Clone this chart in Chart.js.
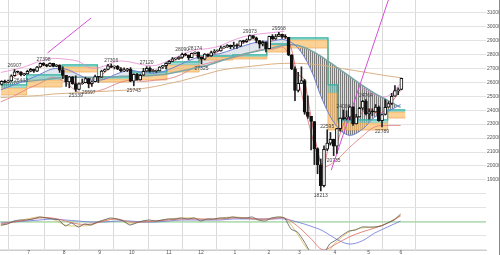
<!DOCTYPE html>
<html>
<head>
<meta charset="utf-8">
<script src="https://cdn.jsdelivr.net/npm/chart.js@4.4.1/dist/chart.umd.min.js"></script>
<style>
html, body { margin: 0; padding: 0; background: #fff; }
#wrap { width: 499px; height: 255px; border-right: 1px solid #888; }
</style>
</head>
<body>
<div id="wrap"><canvas id="chart" width="499" height="255"></canvas></div>
<script>
// two-day candles, Jun 2019 -> Jun 2020 (x = trading day index)
const opens = [25850,26062,26004,26090,26465,26753,26727,26536,26600,26787,26922,26783,27088,27359,27219,27154,27349,27140,27221,26864,
  26485,26030,26378,25897,25480,25886,25962,26252,25898,26036,26403,26355,26797,26910,27182,27076,27147,26935,26807,26891,
  26917,26078,26573,26164,26497,26787,27002,26770,26788,26806,27091,27186,27347,27492,27674,27691,27784,28005,27934,27766,
  28066,28164,27783,27649,28015,27881,28132,28235,28239,28455,28515,28645,28538,28634,28583,28956,28907,29030,29348,29186,
  28989,28723,28859,28399,29290,29102,29276,29423,29232,29219,27960,26957,25409,25917,26121,23851,23553,23185,21237,20087,
  18591,21200,21636,21917,21413,22680,23433,23390,23504,24242,23018,23515,24133,24634,23724,23883,23875,24221,23248,23685,
  24207,24474,24995,25401,25475];
const highs = [26110,26150,26160,26530,26907,26800,26760,26640,26860,26990,26940,27140,27390,27398,27280,27380,27360,27260,27250,27100,
  26490,26420,26410,26460,25960,26230,26360,26280,26080,26510,26410,26860,26950,27280,27306,27180,27200,27040,27030,27000,
  27050,26600,26640,26580,26990,27120,27100,26900,26880,27110,27210,27380,27560,27775,27720,27830,28090,28080,27940,28090,
  28174,28170,27790,28050,28040,28225,28337,28320,28590,28580,28701,28670,28872,28750,28980,29010,29100,29373,29350,29240,
  29000,28960,28900,29300,29410,29420,29568,29450,29410,29220,27970,27100,26710,27100,26200,25020,23560,23185,21300,20500,
  21450,22595,22400,21920,22700,23450,24008,23950,24264,24250,23700,24200,24700,24764,24100,24100,24400,24300,23700,24750,
  24600,25200,25760,25600,26300];
const lows = [25800,25960,25980,26060,26440,26660,26443,26470,26580,26760,26710,26760,27060,27180,27100,27110,27100,27110,26700,26250,
  25700,25600,25850,25339,25450,25850,25950,25597,25690,26020,25980,26340,26740,26880,27040,26950,26900,26750,26760,26760,
  26030,25743,26140,26150,26480,26770,26720,26740,26700,26800,26990,26960,27340,27470,27600,27630,27700,27900,27620,27750,
  28040,27700,27325,27600,27830,27850,28080,28200,28230,28440,28500,28400,28420,28420,28550,28800,28850,29020,29100,28820,
  28440,28600,28170,28390,29060,29060,29270,29140,29130,27900,26900,24681,25300,25900,23700,23400,21150,20100,19450,18213,
  18500,21100,21500,20735,20900,22500,23300,23300,23300,22900,23000,23500,24000,23650,23360,23600,23860,23200,22789,23650,
  24200,24400,24990,25100,25450];
const closes = [26062,26004,26090,26465,26753,26727,26536,26600,26787,26922,26783,27088,27359,27219,27154,27349,27140,27221,26864,26485,
  26030,26378,25897,25480,25886,25962,26252,25898,26036,26403,26355,26797,26910,27182,27076,27147,26935,26807,26891,26917,
  26078,26573,26164,26497,26787,27002,26770,26788,26806,27091,27186,27347,27492,27674,27691,27784,28005,27934,27766,28066,
  28164,27783,27649,28015,27881,28132,28235,28239,28455,28515,28645,28538,28634,28583,28956,28907,29030,29348,29186,28989,
  28723,28859,28399,29290,29102,29276,29423,29232,29219,27960,26957,25409,25917,26121,23851,23553,23185,21237,20087,18591,
  21200,21636,21917,21413,22680,23433,23390,23504,24242,23018,23515,24133,24634,23724,23883,23875,24221,23248,23685,24207,
  24474,24995,25401,25475,26270];
const candleSpan = 2;

// moving averages / bands, one value every 8 trading days
const ma25 = [25450,25800,26150,26550,26950,26950,26550,26150,26200,26600,26850,26700,26650,26900,27300,27700,
  27900,28050,28350,28650,28900,28950,29050,28500,27000,24600,22900,22200,22600,23500,23900,24400];
const ma75 = [25950,26000,26050,26150,26250,26350,26350,26350,26350,26400,26450,26450,26500,26600,26800,27000,
  27200,27500,27800,28050,28250,28450,28650,28650,28300,27750,27100,26450,25800,25200,24700,24200];
const ma200 = [24900,24950,25000,25050,25150,25200,25250,25300,25350,25400,25450,25550,25700,25900,26100,26350,
  26600,26850,27000,27100,27200,27300,27350,27350,27300,27200,27050,26900,26750,26600,26450,26330];
const bandUpper = [26700,26900,27150,27500,27700,27650,27500,27000,27150,27500,27450,27250,27200,27550,27950,28300,
  28400,28600,29000,29300,29450,29550,29650,null,null,null,null,null,25600,25100,25000,25900];
const bandLower = [24600,25000,25500,25900,26350,26000,25300,25300,25500,25900,26150,26050,26150,26250,26550,27050,
  27350,27550,27750,28000,28300,28350,28450,26300,22600,20000,20400,21300,22100,22800,22900,22900];
const slowStep = 8;

// short average, one value every 4 trading days
const ma5 = [25900,26050,26350,26650,26620,26850,27050,27280,27250,27200,
  26350,26150,25850,26050,25850,26250,26650,27050,27130,26930,
  26800,26300,26500,26950,26820,27020,27300,27590,27750,27950,
  27950,27850,27800,28000,28280,28540,28620,28700,28880,29150,
  28950,28620,28950,29300,29380,28500,26600,26250,23800,21400,
  19800,21600,21600,22800,23700,23450,23800,24100,23850,23800,
  24200,24800,25400];
const fastStep = 4;

// price-zone boxes (start day, teal top, orange top, orange bottom)
const boxStartDays = [0,16,38,60,80,103,123,144,165,178,203,209,240];
const boxEndDay = 251;
const boxTop = [25805,26522,27238,26378,26736,27453,27883,27954,28742,29172,25805,23298,24014];
const boxMid = [25590,26163,27095,26235,26522,27238,27811,27811,28670,29029,25232,23083,23871];
const boxBottom = [25089,25662,26736,26020,26163,26736,27596,27668,28169,28456,22582,22582,23441];

// trend lines
const trendADays = [29, 56];
const trendAValues = [28100, 30600];
const trendBDays = [205, 246];
const trendBValues = [19700, 33800];

// lower oscillator panel
const oscFast = [-3,-2,1,2,2,3,5,4,3,2,-4,-1,-5,-2,-3,0,2,4,3,1,
  -3,-1,1,2,1,2,3,3,4,3,4,1,3,3,4,4,5,4,4,5,
  2,1,4,5,4,-7,-10,-19,-30,-35,-33,-22,-18,-13,-9,-8,-5,-5,-5,-4,
  -1,2,8];
const oscRed = [-2,0,2,4,4,1,-2,-2,1,3,0,0,1,2,3,3,3,3,4,4,3,3,4,-4,-16,-28,-22,-15,-10,-6,-1,6];
const oscBlue = [-1,0,1,2,3,2,1,0,0,1,1,0,0,1,2,2,2,2,3,3,3,3,3,0,-4,-9,-17,-22,-19,-11,-5,1];
const oscYellow = [-4,0,3,5,3,-3,-4,-3,2,3,-2,1,1,3,4,4,2,4,5,4,2,4,4,-12,-30,-34,-20,-10,-6,-5,-1,7];
const oscZeroLevel = 0;

// axis
const monthStartDays = [16,38,60,80,103,123,144,165,184,206,227,247];
const monthLabels = ['7','8','9','10','11','12','1','2','3','4','5','6'];
const priceLabelFloor = 18500;
const priceGridLevels = [];
for (let v = 14000; v <= 31500; v += 500) priceGridLevels.push(v);
const xMin = -0.5, xMax = 301;

// marked highs / lows (candle index, h = high, l = low)
const labelCandles = [4,6,13,23,27,34,41,45,56,60,62,77,86,99,101,103,106,113,118];
const labelSides = ['h','l','h','l','l','h','l','h','h','h','l','h','h','l','h','l','h','h','l'];

function series(arr, step) {
    return arr.map((v, i) => ({x: i * step, y: v}));
}
function stepped(levels) {
    const pts = boxStartDays.map((d, i) => ({x: d, y: levels[i]}));
    pts.push({x: boxEndDay, y: levels[levels.length - 1]});
    return pts;
}
function hatch() {
    const c = document.createElement('canvas');
    c.width = 2; c.height = 4;
    const g = c.getContext('2d');
    g.fillStyle = 'rgba(200,200,200,0.6)';
    g.fillRect(0, 0, 2, 4);
    g.fillStyle = 'rgba(100,100,100,0.8)';
    g.fillRect(0, 0, 1, 4);
    return g.createPattern(c, 'repeat');
}

const candleX = i => i * candleSpan + 0.5;
const wickData = opens.map((o, i) => ({x: candleX(i), y: [lows[i], highs[i]]}));
const bodyData = opens.map((o, i) => ({x: candleX(i), y: [Math.min(o, closes[i]), Math.max(o, closes[i])]}));
const bodyFill = opens.map((o, i) => closes[i] >= o ? '#ffffff' : '#111111');

const line = (data, color, width, order, extra) => Object.assign({
    type: 'line', data: data, borderColor: color, borderWidth: width, pointRadius: 0,
    fill: false, tension: 0.35, order: order, spanGaps: false
}, extra || {});

const datasets = [
    {type: 'bar', data: bodyData, backgroundColor: bodyFill, borderColor: '#111', borderWidth: 1,
     borderSkipped: false, barThickness: 3, minBarLength: 1, grouped: false, order: 0},           // 0
    {type: 'bar', data: wickData, backgroundColor: '#222', barThickness: 1, grouped: false, order: 1}, // 1
    line(series(ma5, fastStep), '#e25b5b', 0.8, 2, {tension: 0.25}),                               // 2
    line(series(ma25, slowStep), '#6f7fd2', 1, 3),                                                 // 3
    line(series(ma75, slowStep), '#7da6a6', 1.5, 3),                                               // 4
    line(series(ma200, slowStep), '#d9b184', 1, 4),                                                // 5
    line(series(bandUpper, slowStep), '#e48ad6', 0.8, 4),                                         // 6
    line(series(bandLower, slowStep), '#e07a7a', 0.8, 4),                                          // 7
    line(trendADays.map((d, i) => ({x: d, y: trendAValues[i]})), '#d64ed6', 1, 2, {tension: 0}),   // 8
    line(trendBDays.map((d, i) => ({x: d, y: trendBValues[i]})), '#d64ed6', 1, 2, {tension: 0}),   // 9
    line(stepped(boxTop), '#2fb3a3', 1.2, 6, {stepped: true, fill: {target: 11, above: 'rgba(110,200,190,0.6)', below: 'rgba(110,200,190,0.6)'}}), // 10
    line(stepped(boxMid), 'rgba(240,170,70,0.9)', 0.8, 7, {stepped: true, fill: {target: 12, above: 'rgba(250,190,105,0.7)', below: 'rgba(250,190,105,0.7)'}}), // 11
    line(stepped(boxBottom), '#e8a050', 0.8, 8, {stepped: true}),                                   // 12
    line(series(ma25, slowStep), 'rgba(0,0,0,0)', 0, 9, {fill: {target: 4, above: 'rgba(160,175,200,0.3)', below: hatch()}}), // 13
    line(series(oscFast, fastStep), '#5a5a5a', 0.8, 3, {yAxisID: 'y2', tension: 0.2}),
    line(series(oscRed, slowStep), '#e0685a', 0.8, 3, {yAxisID: 'y2'}),
    line(series(oscBlue, slowStep), '#6b73d8', 0.8, 3, {yAxisID: 'y2'}),
    line(series(oscYellow, slowStep), '#d6bd5a', 0.8, 3, {yAxisID: 'y2'}),
    line([{x: xMin, y: oscZeroLevel}, {x: xMax, y: oscZeroLevel}], '#8fd08f', 1, 5, {yAxisID: 'y2', tension: 0})
];

const peakLabels = {
    id: 'peakLabels',
    afterDatasetsDraw(chart) {
        const {ctx, scales: {x, y}} = chart;
        ctx.save();
        ctx.font = '5px "Liberation Sans"';
        ctx.fillStyle = '#444';
        ctx.textAlign = 'center';
        labelCandles.forEach((k, i) => {
            const high = labelSides[i] === 'h';
            const v = high ? highs[k] : lows[k];
            const px = x.getPixelForValue(candleX(k));
            const py = y.getPixelForValue(v);
            ctx.textBaseline = high ? 'bottom' : 'top';
            ctx.fillText(String(v), px, high ? py - 1 : py + 2);
        });
        ctx.restore();
    }
};

const ctx = document.getElementById('chart').getContext('2d');
new Chart(ctx, {
    type: 'bar',
    data: {datasets: datasets},
    plugins: [peakLabels],
    options: {
        responsive: false,
        animation: false,
        events: [],
        layout: {padding: 0},
        plugins: {legend: {display: false}, tooltip: {enabled: false}},
        scales: {
            x: {
                type: 'linear', min: xMin, max: xMax, offset: false,
                afterBuildTicks(s) { s.ticks = monthStartDays.map(v => ({value: v})); },
                afterFit(s) { s.height = 5; s.paddingLeft = 0; s.paddingRight = 0; },
                ticks: {
                    font: {size: 5, family: 'Liberation Sans'}, color: '#555', padding: 0,
                    maxRotation: 0, autoSkip: false, labelOffset: 2,
                    callback(v, i) { return monthLabels[i]; }
                },
                grid: {color: '#dadada', drawTicks: false},
                border: {display: true, color: '#cfcfcf'}
            },
            y: {
                position: 'right', min: 13980, max: 31890,
                afterBuildTicks(s) { s.ticks = priceGridLevels.map(v => ({value: v})); },
                afterFit(s) { s.width = 13; s.paddingTop = 0; s.paddingBottom = 0; },
                ticks: {
                    font: {size: 5, family: 'Liberation Sans'}, color: '#555', padding: 1,
                    callback(v) { return v >= priceLabelFloor ? String(v) : ''; }
                },
                grid: {color: '#e3e3e3', drawTicks: false},
                border: {display: false}
            },
            y2: {display: false, min: -28, max: 222}
        }
    }
});
</script>
</body>
</html>
